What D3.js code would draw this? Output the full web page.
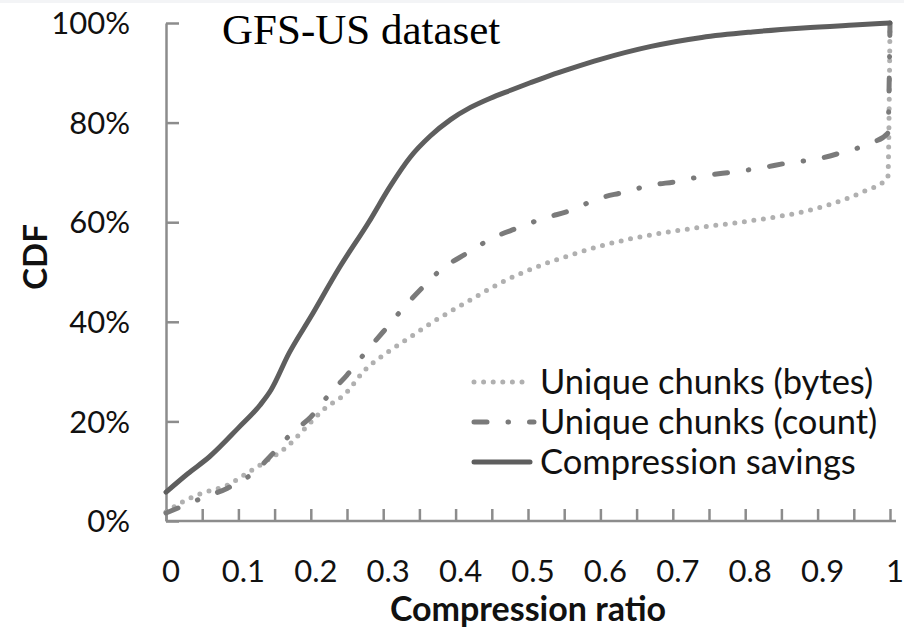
<!DOCTYPE html>
<html>
<head>
<meta charset="utf-8">
<script src="https://cdn.jsdelivr.net/npm/d3@7"></script>
<style>
  body { margin: 0; background: #fff; }
  svg { display: block; }
</style>
</head>
<body>
<div id="chart"></div>
<script>
// DATA
const bytesX = [0, 0.02, 0.05, 0.085, 0.112, 0.14, 0.167, 0.19, 0.217, 0.25, 0.272, 0.306, 0.333, 0.369, 0.416, 0.462, 0.508, 0.555, 0.6, 0.646, 0.693, 0.739, 0.784, 0.831, 0.877, 0.922, 0.969, 0.99, 0.997, 1.0];
const bytesY = [0.018, 0.036, 0.056, 0.072, 0.096, 0.122, 0.149, 0.183, 0.223, 0.259, 0.299, 0.339, 0.365, 0.40, 0.44, 0.478, 0.508, 0.532, 0.552, 0.568, 0.58, 0.59, 0.598, 0.608, 0.62, 0.638, 0.665, 0.68, 0.69, 1.0];

const countX = [0, 0.05, 0.085, 0.12, 0.148, 0.174, 0.2, 0.227, 0.25, 0.278, 0.30, 0.328, 0.355, 0.38, 0.416, 0.448, 0.485, 0.522, 0.56, 0.596, 0.632, 0.669, 0.707, 0.743, 0.784, 0.822, 0.859, 0.9, 0.936, 0.974, 0.997, 1.0];
const countY = [0.016, 0.046, 0.066, 0.096, 0.136, 0.177, 0.209, 0.257, 0.293, 0.343, 0.38, 0.428, 0.47, 0.505, 0.538, 0.566, 0.588, 0.608, 0.624, 0.647, 0.66, 0.674, 0.682, 0.693, 0.701, 0.709, 0.719, 0.727, 0.741, 0.759, 0.779, 1.0];

const savingsX = [0, 0.03, 0.06, 0.10, 0.13, 0.145, 0.17, 0.20, 0.24, 0.28, 0.31, 0.337, 0.365, 0.393, 0.42, 0.448, 0.476, 0.503, 0.531, 0.56, 0.60, 0.67, 0.74, 0.81, 0.88, 0.95, 1.0];
const savingsY = [0.058, 0.095, 0.129, 0.187, 0.233, 0.263, 0.337, 0.41, 0.51, 0.60, 0.673, 0.73, 0.773, 0.806, 0.83, 0.849, 0.865, 0.88, 0.895, 0.909, 0.927, 0.953, 0.971, 0.982, 0.99, 0.996, 1.0];

const seriesNames = ["Unique chunks (bytes)", "Unique chunks (count)", "Compression savings"];
const xTickLabels = ["0", "0.1", "0.2", "0.3", "0.4", "0.5", "0.6", "0.7", "0.8", "0.9", "1"];
const yTickLabels = ["0%", "20%", "40%", "60%", "80%", "100%"];

//DIMENSIONS
const width = 904,
	height = 638;
const plotLeft = 166,
	plotRight = 890,
	plotTop = 23,
	plotBottom = 521;

const sansFont = "Lato, 'Open Sans', sans-serif";
const axisColor = "#8c8c8c";

const svg = d3
	.select("#chart")
	.append("svg")
	.attr("width", width)
	.attr("height", height);

// thin strip along the top edge
svg.append("rect").attr("x", 0).attr("y", 0).attr("width", width).attr("height", 3).attr("fill", "#f3f4f6");

//SCALES
const x = d3.scaleLinear().domain([0, 1]).range([plotLeft, plotRight]);
const y = d3.scaleLinear().domain([0, 1]).range([plotBottom, plotTop]);

//AXES
const xAxis = d3
	.axisBottom(x)
	.tickValues(d3.range(0, 21).map(i => i / 20))
	.tickSizeInner(-12)
	.tickSizeOuter(0)
	.tickFormat("");

const gx = svg.append("g").attr("transform", `translate(0, ${plotBottom})`).call(xAxis);
gx.select(".domain").attr("d", `M${plotLeft},0H${plotRight + 6}`);
gx.selectAll("path, line").attr("stroke", axisColor).attr("stroke-width", 2.5);

const yAxis = d3
	.axisLeft(y)
	.tickValues(d3.range(0, 6).map(i => i / 5))
	.tickSizeInner(-13)
	.tickSizeOuter(0)
	.tickFormat("");

const gy = svg.append("g").attr("transform", `translate(${plotLeft}, 0)`).call(yAxis);
gy.selectAll("path, line").attr("stroke", axisColor).attr("stroke-width", 2.5);

//TICK LABELS
svg
	.append("g")
	.selectAll("text")
	.data(xTickLabels)
	.enter()
	.append("text")
	.attr("x", (d, i) => x(i / 10) + 5)
	.attr("y", 582)
	.attr("text-anchor", "middle")
	.style("font-family", sansFont)
	.style("font-size", "31px")
	.style("fill", "#111")
	.text(d => d);

svg
	.append("g")
	.selectAll("text")
	.data(yTickLabels)
	.enter()
	.append("text")
	.attr("x", 130)
	.attr("y", (d, i) => y(i / 5))
	.attr("dy", "0.36em")
	.attr("text-anchor", "end")
	.style("font-family", sansFont)
	.style("font-size", "31px")
	.style("fill", "#111")
	.text(d => d);

//AXIS TITLES
svg
	.append("text")
	.attr("x", (plotLeft + plotRight) / 2)
	.attr("y", 621)
	.attr("text-anchor", "middle")
	.style("font-family", sansFont)
	.style("font-size", "34px")
	.style("font-weight", 700)
	.style("fill", "#111")
	.text("Compression ratio");

svg
	.append("text")
	.attr("transform", "translate(47, 257) rotate(-90)")
	.attr("text-anchor", "middle")
	.style("font-family", sansFont)
	.style("font-size", "33px")
	.style("font-weight", 700)
	.style("fill", "#111")
	.text("CDF");

//CHART TITLE
svg
	.append("text")
	.attr("x", 222)
	.attr("y", 44)
	.style("font-family", "'Liberation Serif', 'Times New Roman', serif")
	.style("font-size", "43px")
	.style("fill", "#000")
	.text("GFS-US dataset");

//LINES
const line = d3
	.line()
	.x(d => x(d[0]))
	.y(d => y(d[1]))
	.curve(d3.curveMonotoneX);

const styles = [
	{ color: "#b0b0b0", dash: "0,9.6" },
	{ color: "#7a7a7a", dash: "13,21,0.5,21" },
	{ color: "#5e5e5e", dash: null },
];

const series = [
	d3.zip(bytesX, bytesY),
	d3.zip(countX, countY),
	d3.zip(savingsX, savingsY),
];

series.forEach((pts, i) => {
	svg
		.append("path")
		.datum(pts)
		.attr("d", line)
		.attr("fill", "none")
		.attr("stroke", styles[i].color)
		.attr("stroke-width", 5)
		.attr("stroke-linecap", "round")
		.attr("stroke-linejoin", "round")
		.attr("stroke-dasharray", styles[i].dash);
});

//LEGEND
const legend = svg.append("g").attr("transform", "translate(474, 382)");

const legendItem = legend
	.selectAll(".legend-item")
	.data(seriesNames)
	.enter()
	.append("g")
	.attr("class", "legend-item")
	.attr("transform", (d, i) => `translate(0, ${i * 40})`);

legendItem
	.append("line")
	.attr("x1", 0)
	.attr("x2", (d, i) => (i === 1 ? 60 : 56))
	.attr("stroke", (d, i) => styles[i].color)
	.attr("stroke-width", 5)
	.attr("stroke-linecap", "round")
	.attr("stroke-dasharray", (d, i) => styles[i].dash);

legendItem
	.append("text")
	.attr("x", 66)
	.attr("dy", "0.36em")
	.style("font-family", sansFont)
	.style("font-size", "34.5px")
	.style("fill", "#111")
	.text(d => d);
</script>
</body>
</html>
